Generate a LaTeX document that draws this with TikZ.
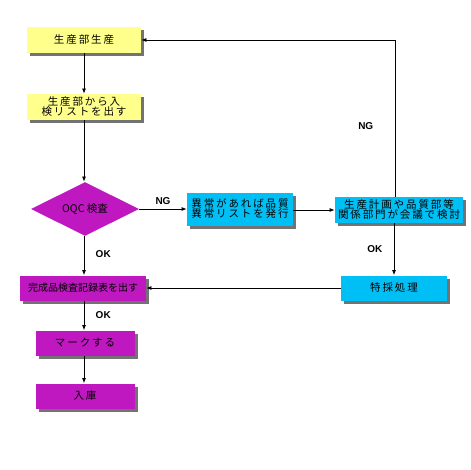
\documentclass[tikz,border=0pt]{standalone}
\usepackage{fontspec}
\setmainfont{Liberation Sans}
\newfontfamily\jpfont{Noto Sans CJK JP}
\newfontfamily\jpwide[LetterSpace=18]{Noto Sans CJK JP}
\usetikzlibrary{arrows.meta,positioning,shapes.geometric,shadows}
\definecolor{PaleYellow}{HTML}{FFFF8C}
\definecolor{SkyCyan}{HTML}{00BFF5}
\definecolor{OrchidMag}{HTML}{C018C0}
\tikzset{
  flowbox/.style={draw=none,inner sep=1pt,align=center,font=\jpwide\fontsize{10.5}{11}\selectfont,
    drop shadow={shadow xshift=3pt,shadow yshift=-3pt,opacity=.55,fill=black}},
  yelbox/.style={flowbox,fill=PaleYellow,minimum width=114pt,minimum height=26pt},
  cyanbox/.style={flowbox,fill=SkyCyan},
  magbox/.style={flowbox,fill=OrchidMag},
  flowlbl/.style={font=\bfseries\fontsize{10}{11}\selectfont},
}
\begin{document}
\begin{tikzpicture}[>={Latex[length=5pt,width=4pt]},x=1pt,y=-1pt,line width=.8pt]
\fill[white] (0,0) rectangle (470,470);
% upper part
\node[yelbox] (prod) at (84,40) {生産部生産};
\node[yelbox] (list) at (84,107) {生産部から入\\[-1pt]検リストを出す};
\node[diamond,aspect=2,fill=OrchidMag,inner sep=0pt,minimum width=108pt,minimum height=54pt,
      font=\jpfont\fontsize{10.5}{11}\selectfont]
      (oqc) at (85,209) {OQC 検査};
% NG branch
\node[cyanbox,minimum width=106pt,minimum height=33pt] (ngrep) at (240,209) {異常があれば品質\\[-1pt]異常リストを発行};
\node[cyanbox,minimum width=128pt,minimum height=26pt] (meet) at (399,210) {生産計画や品質部等\\[-1pt]関係部門が会議で検討};
\node[cyanbox,minimum width=106pt,minimum height=25pt] (tokusai) at (394,288) {特採処理};
% lower part
\node[magbox,minimum width=126pt,minimum height=25pt,font=\jpfont\fontsize{10}{11}\selectfont] (record) at (83,288) {完成品検査記録表を出す};
\node[magbox,minimum width=99pt,minimum height=25pt] (mark) at (85,343) {マークする};
\node[magbox,minimum width=99pt,minimum height=25pt] (stock) at (85,396) {入庫};
\coordinate (loop) at (395,40);
\coordinate (col) at (84,0);
% connectors
\draw[->] (prod) -- (list);
\draw[->] (list.south -| col) -- (oqc.north -| col);
\draw[->] (oqc) -- node[flowlbl,above=1pt]{NG} (ngrep);
\draw[->] (ngrep.east |- meet) -- (meet);
\draw[->] (meet.north -| loop) -- node[flowlbl,pos=.45,left=18pt]{NG} (loop) -- (prod);
\draw[->] (meet.south -| tokusai) -- node[flowlbl,left=8pt]{OK} (tokusai);
\draw[->] (tokusai) -- (record);
\draw[->] (oqc.south -| col) -- node[flowlbl,right=8pt,pos=.45]{OK} (record.north -| col);
\draw[->] (record.south -| col) -- node[flowlbl,right=8pt]{OK} (mark.north -| col);
\draw[->] (mark.south -| col) -- (stock.north -| col);
\end{tikzpicture}
\end{document}
